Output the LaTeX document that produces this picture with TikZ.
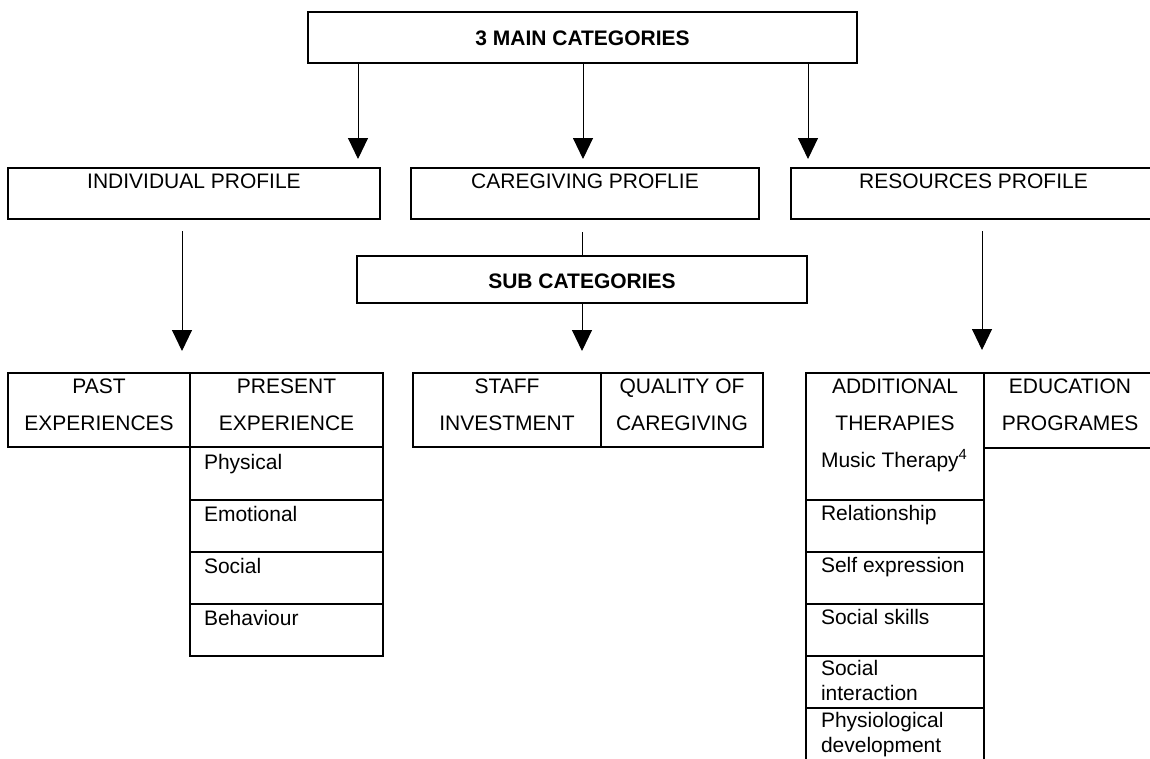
\documentclass[tikz,border=0pt]{standalone}
\usepackage{fontspec}
\setmainfont{Liberation Sans}
\usetikzlibrary{arrows.meta}
% #1 width, #2 height, #3 first baseline from top, #4 baselineskip, #5 content
\newcommand\mkcell[5]{\vbox to #2pt{\hsize=#1pt\parindent=0pt\parskip=0pt\baselineskip=#4pt\lineskiplimit=-100pt\vskip\dimexpr#3pt-15pt\relax\noindent\rule{0pt}{15pt}#5\par\vss}}
\newcommand\lft{\raggedright\leftskip=14pt\relax}
\begin{document}
\begin{tikzpicture}[x=1pt,y=-1pt,
  box/.style={draw, line width=1.3pt, inner sep=0pt, outer sep=0pt, anchor=north west, font=\fontsize{21}{24}\selectfont},
  arr/.style={line width=1pt, -{Triangle[width=20pt,length=21pt]}},
  conn/.style={line width=1pt}]
\useasboundingbox (0,0) rectangle (1150,758);
% main level
\node[box] (top) at (308,12) {\mkcell{549}{51}{33}{24}{\bfseries\centering 3 MAIN CATEGORIES}};
\node[box] (ind) at (8,168) {\mkcell{372}{51}{20}{24}{\centering INDIVIDUAL PROFILE}};
\node[box] (care) at (411,168) {\mkcell{348}{51}{20}{24}{\centering CAREGIVING PROFLIE}};
\node[box] (res) at (791,168) {\mkcell{365}{51}{20}{24}{\centering RESOURCES PROFILE}};
\node[box] (sub) at (357,256) {\mkcell{450}{47}{32}{24}{\bfseries\centering SUB CATEGORIES}};
% left group
\node[box] (past) at (8,373) {\mkcell{182}{74}{20}{37}{\centering PAST\\EXPERIENCES}};
\node[box] (pres) at (190,373) {\mkcell{193}{74}{20}{37}{\centering PRESENT\\EXPERIENCE}};
\node[box] (phys) at (190,447) {\mkcell{193}{53}{22}{24}{\lft Physical}};
\node[box] (emo) at (190,500) {\mkcell{193}{52}{21}{24}{\lft Emotional}};
\node[box] (soc) at (190,552) {\mkcell{193}{52}{21}{24}{\lft Social}};
\node[box] (beh) at (190,604) {\mkcell{193}{52}{21}{24}{\lft Behaviour}};
% middle group
\node[box] (staff) at (413,373) {\mkcell{188}{74}{20}{37}{\centering STAFF\\INVESTMENT}};
\node[box] (qual) at (601,373) {\mkcell{162}{74}{20}{37}{\centering QUALITY OF\\CAREGIVING}};
% right group
\node[box] (addt) at (806,373) {\mkcell{178}{127}{20}{37}{\centering ADDITIONAL\\THERAPIES\par\raggedright\leftskip=15pt\relax Music Therapy\textsuperscript{4}}};
\node[box] (edu) at (984,373) {\mkcell{172}{75}{20}{37}{\centering EDUCATION\\PROGRAMES}};
\node[box] (rel) at (806,500) {\mkcell{178}{52}{20}{24}{\lft\leftskip=15pt Relationship}};
\node[box] (self) at (806,552) {\mkcell{178}{52}{20}{24}{\lft\leftskip=15pt Self expression}};
\node[box] (sks) at (806,604) {\mkcell{178}{52}{20}{24}{\lft\leftskip=15pt Social skills}};
\node[box] (sint) at (806,656) {\mkcell{178}{52}{19}{25}{\lft\leftskip=15pt Social\\interaction}};
\node[box] (phy2) at (806,708) {\mkcell{178}{64}{19}{25}{\lft\leftskip=15pt Physiological\\development}};
% connector x positions
\coordinate (x1) at (358,0);
\coordinate (x2) at (583,0);
\coordinate (x3) at (808,0);
\coordinate (x4) at (182,0);
\coordinate (x5) at (582,0);
\coordinate (x6) at (982,0);
\draw[arr, shorten >=9pt] (top.south -| x1) -- (ind.north -| x1);
\draw[arr, shorten >=9pt] (top.south -| x2) -- (care.north -| x2);
\draw[arr, shorten >=9pt] (top.south -| x3) -- (res.north -| x3);
\draw[arr, shorten <=12pt, shorten >=22pt] (ind.south -| x4) -- (past.north -| x4);
\draw[conn, shorten <=13pt] (care.south -| x5) -- (sub.north -| x5);
\draw[arr, shorten >=22pt] (sub.south -| x5) -- (staff.north -| x5);
\draw[arr, shorten <=12pt, shorten >=23pt] (res.south -| x6) -- (addt.north -| x6);
\end{tikzpicture}
\end{document}
